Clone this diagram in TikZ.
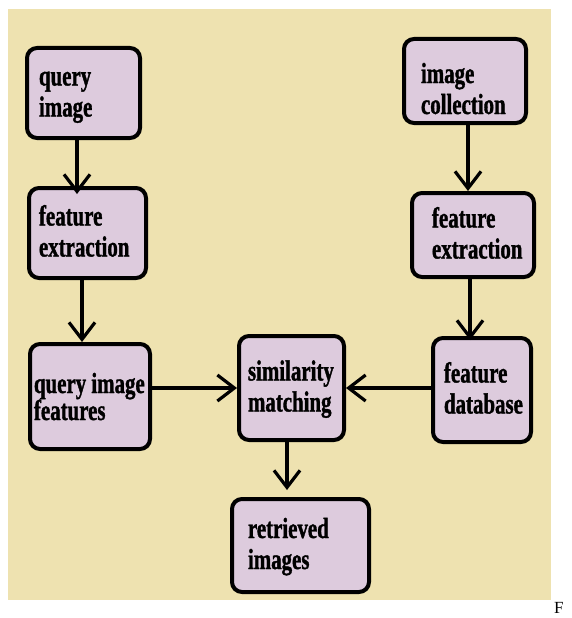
\documentclass[tikz,border=0pt]{standalone}
\usepackage{fontspec}
\setmainfont{Liberation Serif}[FakeStretch=0.72, BoldFeatures={FakeBold=1.2}]
\newfontfamily\figfont{Liberation Serif}
\usetikzlibrary{arrows.meta,positioning}
\definecolor{bgtan}{RGB}{238,226,176}
\definecolor{boxlilac}{RGB}{221,203,221}
\hyphenpenalty=10000

\begin{document}
\begin{tikzpicture}[x=1pt, y=-1pt,
    stage/.style={draw, line width=4pt, rounded corners=10pt, fill=boxlilac,
      align=flush left, inner ysep=0pt, text height=23pt, text depth=38pt,
      font=\bfseries\fontsize{29}{31}\selectfont},
    flow/.style={line width=3.2pt, -{Straight Barb[length=17pt,width=26pt]}}]
  \useasboundingbox (0,0) rectangle (571,618);
  \fill[bgtan] (8,9) rectangle (551,600);

  % query side
  \node[stage, text width=89pt, inner xsep=12pt, minimum height=90pt] (qimg) at (83.5,93) {query\\image};
  \node[stage, text width=97pt, inner xsep=10pt, minimum height=90pt] (fextL) at (87.5,233) {feature\\extraction};
  \node[stage, text width=112pt, inner xsep=4pt, minimum height=105pt, text height=27pt, text depth=34pt,
    font=\bfseries\fontsize{29}{27}\selectfont] (qif) at (90,396.5) {query~image\\features};

  % collection side
  \node[stage, text width=88pt, inner xsep=17pt, minimum height=84pt, text height=42pt] (coll) at (465,81) {image\\collection};
  \node[stage, text width=82pt, inner xsep=20pt, minimum height=84pt] (fextR) at (473,235) {feature\\extraction};
  \node[stage, text width=76pt, inner xsep=11pt, minimum height=104pt] (fdb) at (482,390) {feature\\database};

  % matching
  \node[stage, text width=87pt, inner xsep=9pt, minimum height=104pt] (sim) at (291.5,388) {similarity\\matching};
  \node[stage, text width=105pt, inner xsep=16pt, minimum height=93pt] (ret) at (300.5,545.5) {retrieved\\images};

  \draw[flow, shorten >=-8pt] ([xshift=-6.5pt]qimg.south) -- ([xshift=-6.5pt]qimg.south |- fextL.north);
  \draw[flow] ([xshift=-5.5pt]fextL.south) -- ([xshift=-5.5pt]fextL.south |- qif.north);
  \draw[flow] ([xshift=3pt]coll.south) -- ([xshift=3pt]coll.south |- fextR.north);
  \draw[flow, shorten >=-4pt] ([xshift=-3pt]fextR.south) -- ([xshift=-3pt]fextR.south |- fdb.north);
  \draw[flow] (qif.east |- sim.west) -- (sim.west);
  \draw[flow] (fdb.west |- sim.east) -- (sim.east);
  \draw[flow, shorten >=7pt] ([xshift=-4.5pt]sim.south) -- ([xshift=-4.5pt]sim.south |- ret.north);

  \node[anchor=north west, inner sep=0pt, font=\figfont\fontsize{17}{17}\selectfont] (figtag) at (554,602) {F};
\end{tikzpicture}
\end{document}
